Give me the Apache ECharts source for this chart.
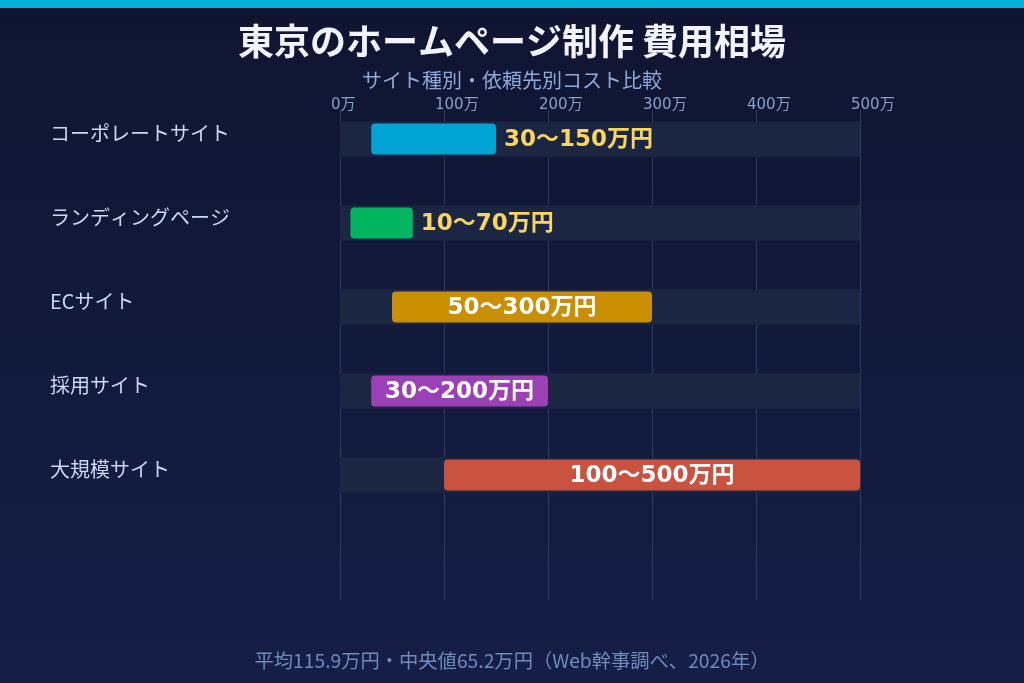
<!DOCTYPE html>
<html>
<head>
<meta charset="utf-8">
<script src="https://cdn.jsdelivr.net/npm/echarts@6/dist/echarts.min.js"></script>
<style>
  html, body { margin: 0; padding: 0; background: #111838; }
  #main { width: 1024px; height: 683px; }
</style>
</head>
<body>
<div id="main"></div>
<script>
// データ
var categories = ["コーポレートサイト", "ランディングページ", "ECサイト", "採用サイト", "大規模サイト"];
var minCost = [30, 10, 50, 30, 100];
var maxCost = [150, 70, 300, 200, 500];
var barColors = ["#00a3d4", "#00b460", "#c98f00", "#9c40b6", "#c9533e"];
var rangeLabels = ["30～150万円", "10～70万円", "50～300万円", "30～200万円", "100～500万円"];
var trackMax = [500, 500, 500, 500, 500];
var tickLabels = ["0万", "100万", "200万", "300万", "400万", "500万"];

(function() {
    var myChart = echarts.init(document.getElementById("main"));
    var font = "'Noto Sans CJK JP', 'Noto Sans', sans-serif";
    var numFont = "'DejaVu Sans', 'Noto Sans CJK JP', sans-serif";

    // 最後に空の行を入れて下の余白をつくる
    var yData = categories.concat([""]);

    var rangeData = categories.map(function(c, i) {
        return [minCost[i], maxCost[i], i];
    });

    var option = {
        backgroundColor: new echarts.graphic.LinearGradient(0, 0, 0, 1, [
            { offset: 0, color: "#0f1531" },
            { offset: 1, color: "#151e46" }
        ]),
        animation: false,
        graphic: [{
            type: "rect",
            left: 0,
            top: 0,
            shape: { width: 1024, height: 8 },
            style: { fill: "#00b2d9" }
        }],
        title: [{
            text: "東京のホームページ制作 費用相場",
            left: "center",
            top: 18,
            textStyle: { color: "#f2f5ff", fontSize: 36, fontWeight: "bold", fontFamily: font }
        }, {
            text: "サイト種別・依頼先別コスト比較",
            left: "center",
            top: 65,
            textStyle: { color: "#8fa9d8", fontSize: 20, fontWeight: "normal", fontFamily: font }
        }, {
            text: "平均115.9万円・中央値65.2万円（Web幹事調べ、2026年）",
            left: "center",
            top: 646,
            textStyle: { color: "#6f8bbb", fontSize: 19.3, fontWeight: "normal", fontFamily: font }
        }],
        // grid 0: バー用, grid 1: 目盛り線用
        grid: [{
            left: 340,
            width: 520,
            top: 97,
            height: 504
        }, {
            left: 340,
            width: 520,
            top: 110,
            height: 490
        }],
        xAxis: [{
            type: "value",
            gridIndex: 0,
            min: 0,
            max: 500,
            show: false
        }, {
            type: "value",
            gridIndex: 1,
            position: "top",
            min: 0,
            max: 500,
            interval: 100,
            axisLine: { show: false },
            axisTick: { show: false },
            axisLabel: {
                color: "#8aa0c8",
                fontSize: 15,
                fontFamily: numFont,
                margin: -3,
                align: "left",
                padding: [0, 0, 0, -9],
                formatter: function(v) { return tickLabels[v / 100]; }
            },
            splitLine: { lineStyle: { color: "#2e3b60", width: 1 } }
        }],
        yAxis: [{
            type: "category",
            gridIndex: 0,
            inverse: true,
            data: yData,
            axisLine: { show: false },
            axisTick: { show: false },
            splitLine: { show: false },
            axisLabel: {
                align: "left",
                margin: 290,
                color: "#cbd8f2",
                fontSize: 20,
                fontFamily: font,
                verticalAlign: "bottom",
                padding: [0, 0, -4, 0]
            }
        }, {
            type: "value",
            gridIndex: 1,
            show: false
        }],
        series: [{
            // 背景トラック
            type: "bar",
            data: trackMax,
            barWidth: 35,
            silent: true,
            itemStyle: { color: "#1b2642" },
            z: 2
        }, {
            // 価格帯
            type: "custom",
            data: rangeData,
            encode: { x: [0, 1], y: 2 },
            z: 3,
            renderItem: function(params, api) {
                var i = api.value(2);
                var p0 = api.coord([api.value(0), i]);
                var p1 = api.coord([api.value(1), i]);
                var h = 31;
                var w = p1[0] - p0[0];
                var inside = api.value(1) - api.value(0) >= 150;
                return {
                    type: "group",
                    children: [{
                        type: "rect",
                        shape: { x: p0[0], y: p0[1] - h / 2, width: w, height: h, r: 4 },
                        style: { fill: barColors[i] }
                    }, {
                        type: "text",
                        x: inside ? p0[0] + w / 2 : p1[0] + 8,
                        y: p0[1] + 1,
                        style: {
                            text: rangeLabels[i],
                            fill: inside ? "#ffffff" : "#fbd65c",
                            fontSize: 23,
                            fontWeight: "bold",
                            fontFamily: numFont,
                            align: inside ? "center" : "left",
                            verticalAlign: "middle"
                        }
                    }]
                };
            }
        }]
    };

    myChart.setOption(option);
    window.addEventListener("resize", function() {
        myChart.resize();
    });
})();
</script>
</body>
</html>
